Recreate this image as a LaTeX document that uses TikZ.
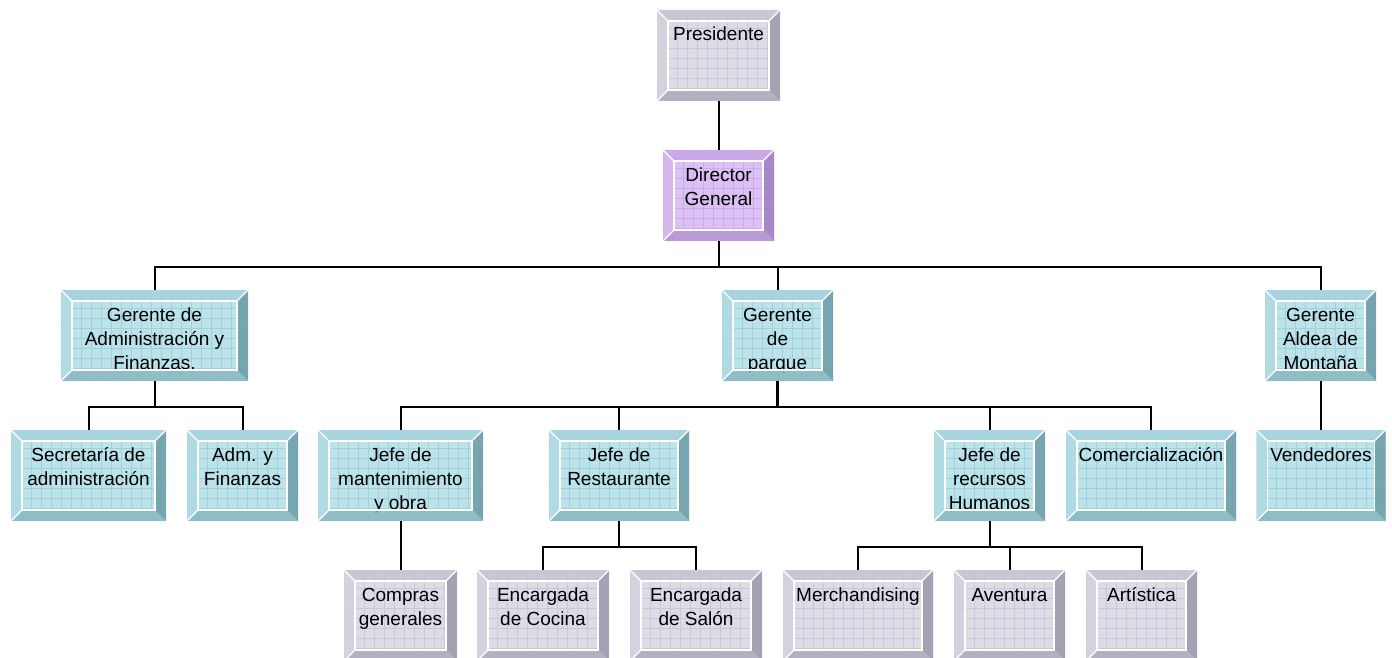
\documentclass[tikz,border=0pt]{standalone}
\usepackage{fontspec}
\setmainfont{Liberation Sans}
\definecolor{gface}{HTML}{DCDCE7}
\definecolor{ggrid}{HTML}{C8C8D8}
\definecolor{gtop}{HTML}{C4C4D2}
\definecolor{gleft}{HTML}{D2D2DE}
\definecolor{gright}{HTML}{9A9AAC}
\definecolor{gbot}{HTML}{ABABBD}
\definecolor{pface}{HTML}{DCC2F4}
\definecolor{pgrid}{HTML}{CAAAE8}
\definecolor{ptop}{HTML}{C8A6E4}
\definecolor{pleft}{HTML}{D4B6EE}
\definecolor{pright}{HTML}{A07EBE}
\definecolor{pbot}{HTML}{B496D2}
\definecolor{tface}{HTML}{BCE2EA}
\definecolor{tgrid}{HTML}{A0D0DC}
\definecolor{ttop}{HTML}{A4D2DC}
\definecolor{tleft}{HTML}{B0DAE2}
\definecolor{tright}{HTML}{6C9CA8}
\definecolor{tbot}{HTML}{88B8C2}
\tikzset{
  obox/.style={fill=#1face, draw=none, inner sep=0pt, outer sep=0pt,
    path picture={\draw[#1grid, line width=0.7pt] (path picture bounding box.south west) grid[step=10pt] (path picture bounding box.north east);}},
  conn/.style={draw=black, line width=2pt},
  bevel/.style={fill opacity=0.85}
}
\def\bw{11pt}
\newcommand\obox[7]{%
  \node[obox=#2, minimum width=#5pt, minimum height=#6pt] (#1) at (#3,#4)
    {\parbox[c][#6pt][t]{#5pt}{\centering\fontsize{19}{24}\selectfont\rule{0pt}{31pt}#7}};
  \fill[#2top, bevel] (#1.north west) -- (#1.north east) -- ([shift={(-\bw,-\bw)}]#1.north east) -- ([shift={(\bw,-\bw)}]#1.north west) -- cycle;
  \fill[#2left, bevel] (#1.north west) -- ([shift={(\bw,-\bw)}]#1.north west) -- ([shift={(\bw,\bw)}]#1.south west) -- (#1.south west) -- cycle;
  \fill[#2right, bevel] (#1.north east) -- ([shift={(-\bw,-\bw)}]#1.north east) -- ([shift={(-\bw,\bw)}]#1.south east) -- (#1.south east) -- cycle;
  \fill[#2bot, bevel] (#1.south west) -- ([shift={(\bw,\bw)}]#1.south west) -- ([shift={(-\bw,\bw)}]#1.south east) -- (#1.south east) -- cycle;
  \draw[white, line width=1.3pt] ([shift={(\bw,-\bw)}]#1.north west) rectangle ([shift={(-\bw,\bw)}]#1.south east);
  \draw[white, line width=1.3pt] (#1.north west) -- ++(\bw,-\bw) (#1.north east) -- ++(-\bw,-\bw) (#1.south west) -- ++(\bw,\bw);
}
\begin{document}
\begin{tikzpicture}[x=1pt, y=-1pt]
\useasboundingbox (0,0) rectangle (1392,658);
\clip (0,0) rectangle (1392,658);
% level 0-1
\obox{pres}{g}{718.5}{55.5}{123}{91}{Presidente}
\obox{dir}{p}{718.5}{195.5}{111}{91}{Director\\General}
% level 2
\obox{gadm}{t}{154.5}{335.5}{187}{91}{Gerente de\\Administración y\\Finanzas.}
\obox{gpar}{t}{777.5}{335.5}{111}{91}{Gerente\\de\\parque}
\obox{gald}{t}{1320.5}{335.5}{111}{91}{Gerente\\Aldea de\\Montaña}
% level 3
\obox{sec}{t}{88.5}{475.5}{155}{91}{Secretaría de\\administración}
\obox{adm}{t}{242.5}{475.5}{111}{91}{Adm. y\\Finanzas}
\obox{jman}{t}{400.5}{475.5}{165}{91}{Jefe de\\mantenimiento\\y obra}
\obox{jres}{t}{619}{475.5}{140}{91}{Jefe de\\Restaurante}
\obox{jrh}{t}{989.5}{475.5}{111}{91}{Jefe de\\recursos\\Humanos}
\obox{com}{t}{1151}{475.5}{170}{91}{Comercialización}
\obox{ven}{t}{1321}{475.5}{129}{91}{Vendedores}
% level 4
\obox{comp}{g}{400.5}{615.5}{113}{91}{Compras\\generales}
\obox{ecoc}{g}{543}{615.5}{132}{91}{Encargada\\de Cocina}
\obox{esal}{g}{696}{615.5}{132}{91}{Encargada\\de Salón}
\obox{mer}{g}{858}{615.5}{150}{91}{Merchandising}
\obox{ave}{g}{1009.5}{615.5}{111}{91}{Aventura}
\obox{art}{g}{1141.5}{615.5}{111}{91}{Artística}
% connectors
\draw[conn] (pres.south) -- (dir.north);
\coordinate (bus1) at ([yshift=23pt]gpar.north);
\draw[conn] (dir.south) -- (dir.south |- bus1);
\draw[conn] (gadm.north) -- ++(0,-23) -| (gald.north);
\draw[conn] (gpar.north) -- (bus1);
\draw[conn] (gadm.south) -- ++(0,26);
\draw[conn] (sec.north) -- ++(0,-23) -| (adm.north);
\draw[conn, line width=2.6pt] (gpar.south) -- ++(0,26);
\draw[conn] (jman.north) -- ++(0,-23) -| (com.north);
\draw[conn] (jres.north) -- ++(0,-23);
\draw[conn] (jrh.north) -- ++(0,-23);
\draw[conn] (gald.south) -- (gald.south |- ven.north);
\draw[conn] (jman.south) -- (comp.north);
\draw[conn] (jres.south) -- ++(0,26);
\draw[conn] (ecoc.north) -- ++(0,-23) -| (esal.north);
\draw[conn] (jrh.south) -- ++(0,26);
\draw[conn] (mer.north) -- ++(0,-23) -| (art.north);
\draw[conn] (ave.north) -- ++(0,-23);
\end{tikzpicture}
\end{document}
